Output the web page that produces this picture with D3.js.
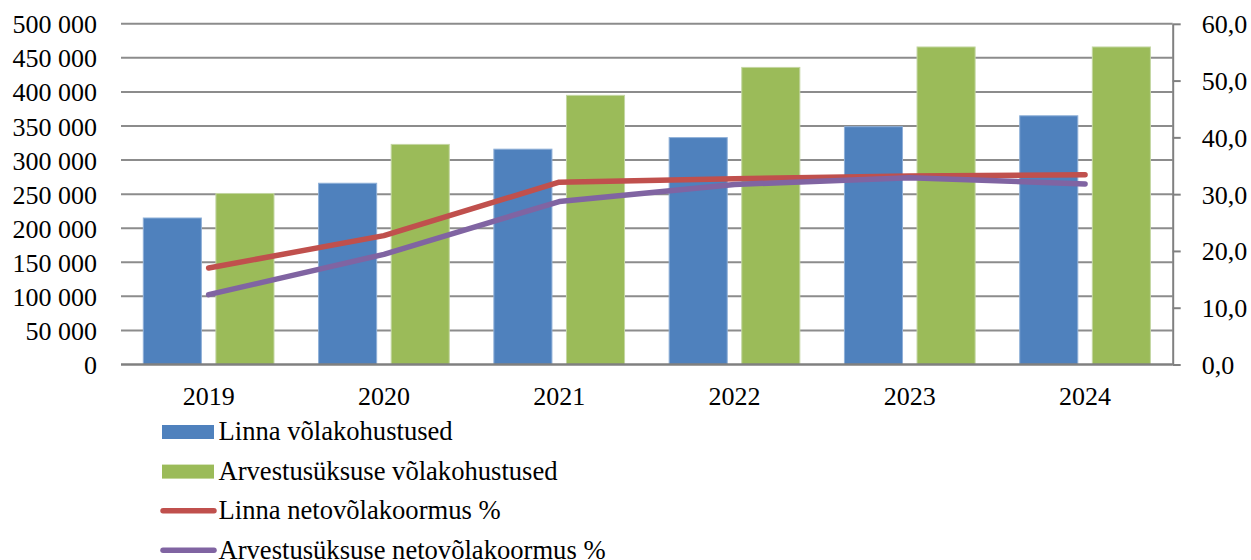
<!DOCTYPE html>
<html><head><meta charset="utf-8">
<script src="https://cdn.jsdelivr.net/npm/d3@7"></script>
<style>body{margin:0;background:#fff}svg{display:block}text{font-family:"Liberation Serif","Times New Roman",serif;fill:#000}</style>
</head><body>
<svg id="c" width="1251" height="560"></svg>
<script>
const years = ["2019","2020","2021","2022","2023","2024"];
const linnaDebt = [215000, 266000, 316000, 333000, 349000, 365000];
const arvDebt = [251000, 323000, 395000, 436000, 466000, 466000];
const linnaPct = [17.0, 22.7, 32.1, 32.7, 33.2, 33.4];
const arvPct = [12.3, 19.4, 28.7, 31.7, 32.9, 31.8];
const leftTicks = [0,50000,100000,150000,200000,250000,300000,350000,400000,450000,500000];
const rightTicks = [0,10,20,30,40,50,60];
const seriesNames = ["Linna võlakohustused","Arvestusüksuse võlakohustused","Linna netovõlakoormus %","Arvestusüksuse netovõlakoormus %"];
const colors = {blue:"#4F81BD", green:"#9BBB59", red:"#C0504D", purple:"#8064A2"};

const svg = d3.select("#c");
const L = 121, R = 1172.7, T = 23.8, B = 364.5;
const x = d3.scaleBand().domain(years).range([L, R]).paddingInner(0).paddingOuter(0);
const x1 = d3.scaleBand().domain(["a","b"]).range([22.3, x.bandwidth()-22.3]).paddingInner(0.2);
const y = d3.scaleLinear().domain([0,500000]).range([B, T]);
const y2 = d3.scaleLinear().domain([0,60]).range([B, T]);
const fmt = v => d3.format(",")(v).replace(/,/g, " ");

// gridlines
svg.append("g").selectAll("line").data(leftTicks.filter(d=>d>0)).join("line")
  .attr("x1", L).attr("x2", R).attr("y1", d=>y(d)).attr("y2", d=>y(d))
  .attr("stroke", "#8c8c8c").attr("stroke-width", 2);

// left axis labels
const la = svg.append("g").attr("transform", `translate(${L},0)`)
  .call(d3.axisLeft(y).tickValues(leftTicks).tickFormat(fmt).tickSize(0).tickPadding(24));
la.select(".domain").remove();
la.selectAll("text").attr("font-size", 26).attr("font-family", "Liberation Serif").attr("dy", null).attr("dominant-baseline","auto").attr("transform","translate(0,9)");

// bars
const g = svg.append("g");
g.selectAll("rect.a").data(years).join("rect").attr("class","a")
  .attr("x", d=>x(d)+x1("a")).attr("width", x1.bandwidth())
  .attr("y", (d,i)=>y(linnaDebt[i])).attr("height", (d,i)=>B-y(linnaDebt[i]))
  .attr("fill", colors.blue).attr("stroke","#8fb0d8").attr("stroke-width",1);
g.selectAll("rect.b").data(years).join("rect").attr("class","b")
  .attr("x", d=>x(d)+x1("b")).attr("width", x1.bandwidth())
  .attr("y", (d,i)=>y(arvDebt[i])).attr("height", (d,i)=>B-y(arvDebt[i]))
  .attr("fill", colors.green).attr("stroke","#c4d6a2").attr("stroke-width",1);

// baseline
svg.append("line").attr("x1", L).attr("x2", R).attr("y1", B).attr("y2", B).attr("stroke","#808080").attr("stroke-width",2.5);

// x axis labels
const xa = svg.append("g").attr("transform", `translate(0,${B})`)
  .call(d3.axisBottom(x).tickSize(0).tickPadding(0));
xa.select(".domain").remove();
xa.selectAll("text").attr("font-size", 26).attr("font-family","Liberation Serif").attr("dy", null).attr("y", 40.5);

// right axis
const ra = svg.append("g").attr("transform", `translate(${R},0)`)
  .call(d3.axisRight(y2).tickValues(rightTicks).tickFormat(d3.format(".1f")).tickSizeOuter(0).tickSizeInner(8).tickPadding(21));
ra.select(".domain").attr("stroke","#808080").attr("stroke-width",2);
ra.selectAll(".tick line").attr("stroke","#808080").attr("stroke-width",2);
ra.selectAll("text").attr("font-size", 26).attr("font-family","Liberation Serif").attr("dy", null).attr("transform","translate(0,9)")
  .text(d=>d3.format(".1f")(d).replace(".", ","));

// lines
const cx = d => x(d) + x.bandwidth()/2;
const lineGen = arr => d3.line().x((d,i)=>cx(years[i])).y(d=>y2(d))(arr);
svg.append("path").attr("d", lineGen(linnaPct)).attr("fill","none").attr("stroke",colors.red).attr("stroke-width",5.5).attr("stroke-linecap","round").attr("stroke-linejoin","round");
svg.append("path").attr("d", lineGen(arvPct)).attr("fill","none").attr("stroke",colors.purple).attr("stroke-width",5.5).attr("stroke-linecap","round").attr("stroke-linejoin","round");

// legend
const lg = svg.append("g");
const rows = [
  {name: seriesNames[0], type:"rect", color: colors.blue},
  {name: seriesNames[1], type:"rect", color: colors.green},
  {name: seriesNames[2], type:"line", color: colors.red},
  {name: seriesNames[3], type:"line", color: colors.purple}
];
rows.forEach((r,i)=>{
  const cyy = 432 + i*39.6;
  if (r.type === "rect") {
    lg.append("rect").attr("x",162).attr("y",cyy-7).attr("width",52).attr("height",14).attr("fill",r.color);
  } else {
    lg.append("line").attr("x1",163).attr("x2",214).attr("y1",cyy-0.5).attr("y2",cyy-0.5).attr("stroke",r.color).attr("stroke-width",5.5).attr("stroke-linecap","round");
  }
  lg.append("text").attr("x",218.5).attr("y",cyy+8).attr("font-size",26.6).text(r.name);
});
</script>
</body></html>
